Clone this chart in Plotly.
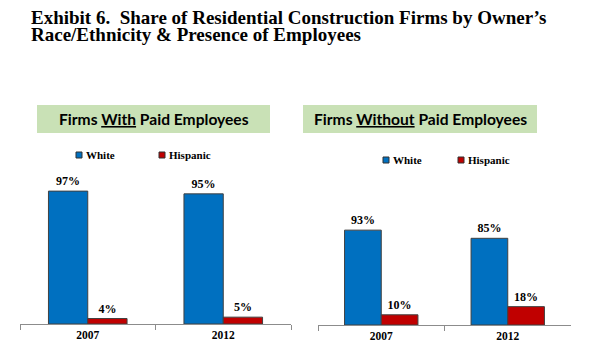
import plotly.graph_objects as go

years = ["2007", "2012"]
with_white = [97, 95]
with_hisp = [4, 5]
without_white = [93, 85]
without_hisp = [10, 18]
series_names = ["White", "Hispanic"]
panel_titles = ["Firms <u>With</u> Paid Employees", "Firms <u>Without</u> Paid Employees"]
main_title = ["Exhibit 6.  Share of Residential Construction Firms by Owner\u2019s",
              "Race/Ethnicity & Presence of Employees"]

# page body has an 8px default margin; size the figure to fill the 600x359 window
OFF = 8
W, H = 600 - OFF, 359 - OFF
BLUE = "#0070C0"
RED = "#C00000"
GREEN = "#C9E1B6"
SERIF = "Liberation Serif, Times New Roman, serif"


def px_x(x):
    return (x - OFF) / W


def px_y(y):
    return 1 - (y - OFF) / H


fig = go.Figure()

panels = [
    dict(white=with_white, hisp=with_hisp, xa="x", ya="y"),
    dict(white=without_white, hisp=without_hisp, xa="x2", ya="y2"),
]
colors = [BLUE, RED]
for p in panels:
    for name, vals, col in [(series_names[0], p["white"], BLUE), (series_names[1], p["hisp"], RED)]:
        fig.add_trace(go.Bar(
            x=years, y=vals, name=name, xaxis=p["xa"], yaxis=p["ya"],
            marker=dict(color=col, line=dict(color="#404040", width=1)),
            text=[f"{v}%" for v in vals], textposition="outside",
            textfont=dict(family=SERIF, size=12, color="black", weight="bold"),
            cliponaxis=False, showlegend=False, hoverinfo="skip",
        ))

xcommon = dict(showline=True, linecolor="#8c8c8c", linewidth=1, ticks="outside",
               ticklen=5, tickcolor="#8c8c8c", tickson="boundaries", showgrid=False,
               range=[-0.5, 1.5],
               tickfont=dict(family=SERIF, size=11.5, color="black", weight="bold"),
               fixedrange=True)
ycommon = dict(range=[0, 100], visible=False, showgrid=False, fixedrange=True)

fig.update_layout(
    width=W, height=H, margin=dict(l=0, r=0, t=0, b=0),
    paper_bgcolor="white", plot_bgcolor="white",
    barmode="group", bargap=0.42, bargroupgap=0,
    xaxis=dict(domain=[px_x(20), px_x(291)], anchor="y", **xcommon),
    yaxis=dict(domain=[px_y(324), px_y(187)], anchor="x", **ycommon),
    xaxis2=dict(domain=[px_x(318), px_x(571)], anchor="y2", **xcommon),
    yaxis2=dict(domain=[px_y(325), px_y(223)], anchor="x2", **ycommon),
    showlegend=False,
    font=dict(family=SERIF),
)

# legends (square key + label) for each panel
legend_pos = [([79, 162], 155), ([386, 461], 160)]
for xs, yc in legend_pos:
    for xs_i, name, col in zip(xs, series_names, colors):
        fig.add_shape(type="rect", xref="paper", yref="paper",
                      x0=px_x(xs_i - 3), x1=px_x(xs_i + 3), y0=px_y(yc + 3), y1=px_y(yc - 3),
                      fillcolor=col, line=dict(color="#303030", width=1))
        fig.add_annotation(xref="paper", yref="paper", x=px_x(xs_i + 5), y=px_y(yc),
                           text=name, showarrow=False, xanchor="left", yanchor="middle",
                           font=dict(family=SERIF, size=11, color="black", weight="bold"))

# panel title boxes
boxes = [(37, 270), (303, 537)]
for (x0, x1), t in zip(boxes, panel_titles):
    fig.add_shape(type="rect", xref="paper", yref="paper",
                  x0=px_x(x0), x1=px_x(x1), y0=px_y(133), y1=px_y(105),
                  fillcolor=GREEN, line=dict(width=0), layer="below")
    fig.add_annotation(xref="paper", yref="paper", x=px_x((x0 + x1) / 2), y=px_y(119),
                       text=f"<b>{t}</b>", showarrow=False, xanchor="center", yanchor="middle",
                       font=dict(family="Lato, Carlito, Calibri, sans-serif", size=15.6, color="black"))

# main title lines
for line, yc in zip(main_title, [18, 34]):
    fig.add_annotation(xref="paper", yref="paper", x=px_x(29), y=px_y(yc),
                       text=f"<b>{line}</b>", showarrow=False, xanchor="left", yanchor="middle",
                       font=dict(family=SERIF, size=19, color="black"))

fig.write_html("out.html")
